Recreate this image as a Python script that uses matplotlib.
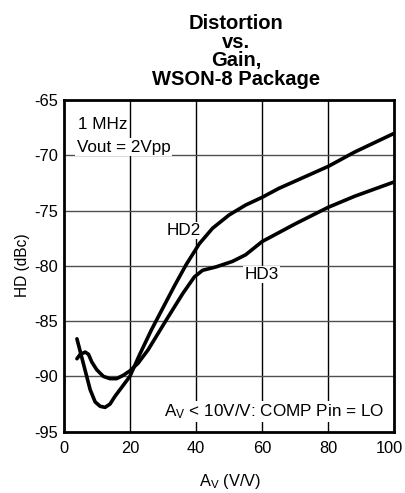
import matplotlib
matplotlib.use("Agg")
import matplotlib.pyplot as plt
import matplotlib.transforms as mtransforms

plt.rcParams['font.family'] = ['Liberation Sans', 'DejaVu Sans']
plt.rcParams['mathtext.default'] = 'regular'

# HD2 / HD3 versus closed-loop gain, 1 MHz, 2 Vpp out
gain_hd2 = [4, 6, 8, 9.5, 11, 12.5, 14, 15.5, 18, 20, 23, 26.5, 30, 33.5, 37,
            41, 45, 50, 55, 60, 65, 71, 80, 88, 100]
hd2 = [-86.6, -88.9, -91.2, -92.3, -92.7, -92.8, -92.5, -91.8, -90.8, -90.0,
       -88.0, -85.8, -83.8, -81.8, -79.9, -78.0, -76.6, -75.4, -74.5, -73.8,
       -73.0, -72.2, -71.0, -69.7, -68.0]

gain_hd3 = [4, 5, 6.5, 7.5, 8.5, 10, 12, 14, 16, 18, 20, 22.5, 25.5, 31, 36,
            39.5, 42, 46, 51, 55, 60, 65, 70, 80, 88, 100]
hd3 = [-88.4, -88.0, -87.8, -88.0, -88.7, -89.4, -90.0, -90.2, -90.2, -89.9,
       -89.5, -88.8, -87.6, -84.9, -82.5, -81.0, -80.4, -80.1, -79.6, -79.0,
       -77.8, -77.0, -76.2, -74.7, -73.7, -72.4]

x_ticks = [0, 20, 40, 60, 80, 100]
y_ticks = [-95, -90, -85, -80, -75, -70, -65]

title = "Distortion\nvs.\nGain,\nWSON-8 Package"

W, H = 406, 493
fig = plt.figure(figsize=(W / 100, H / 100), dpi=100)
ax = fig.add_axes([63.7 / W, 1 - 431.7 / H, (394.5 - 63.7) / W, (431.7 - 100) / H])

# grid drawn by hand so horizontal and vertical lines can differ in tone
for x in x_ticks[1:-1]:
    ax.axvline(x, color='black', lw=1.0, zorder=1)
for y in y_ticks[1:-1]:
    ax.axhline(y, color='#505050', lw=1.0, zorder=1)

for g, v in ((gain_hd2, hd2), (gain_hd3, hd3)):
    ax.plot(g, v, color='black', lw=2.6, solid_capstyle='round',
            solid_joinstyle='round', zorder=3)

ax.set_xlim(0, 100)
ax.set_ylim(-95, -65)
ax.set_xticks(x_ticks)
ax.set_yticks(y_ticks)
ax.set_yticklabels([str(t) for t in y_ticks])
ax.tick_params(length=0, labelsize=11.8)
ax.tick_params(axis='x', pad=7)
ax.tick_params(axis='y', pad=4)
for s in ax.spines.values():
    s.set_linewidth(2.0)

# nudge the "100" label left so it stays inside the figure
fig.canvas.draw()
last = ax.get_xticklabels()[-1]
last.set_transform(last.get_transform() +
                   mtransforms.ScaledTranslation(-5 / 100, 0, fig.dpi_scale_trans))

fs = 12.3
box = dict(facecolor='white', edgecolor='none', pad=1.0)
ax.text(4.4, -67.65, "1 MHz", fontsize=fs, ha='left', va='baseline', zorder=2, bbox=box)
ax.text(3.9, -69.67, "Vout = 2Vpp", fontsize=fs, ha='left', va='baseline', zorder=2, bbox=box)
ax.text(31.2, -77.2, "HD2", fontsize=fs, ha='left', va='baseline', zorder=2, bbox=box)
ax.text(54.7, -81.2, "HD3", fontsize=fs, ha='left', va='baseline', zorder=2, bbox=box)
ax.text(97.0, -93.57, "A$_V$ < 10V/V: COMP Pin = LO", fontsize=fs, ha='right',
        va='baseline', zorder=2, bbox=box)

fig.text(230 / W, 1 - 486 / H, "A$_V$ (V/V)", fontsize=11.8, ha='center', va='baseline')
fig.text(23 / W, 1 - 265 / H, "HD (dBc)", fontsize=11.2, rotation=90,
         ha='center', va='center')

fig.text(236 / W, 1 - 85 / H, title, fontsize=14.5, fontweight='bold',
         ha='center', va='baseline', linespacing=0.97, multialignment='center')

fig.savefig("out.png", dpi=100)
